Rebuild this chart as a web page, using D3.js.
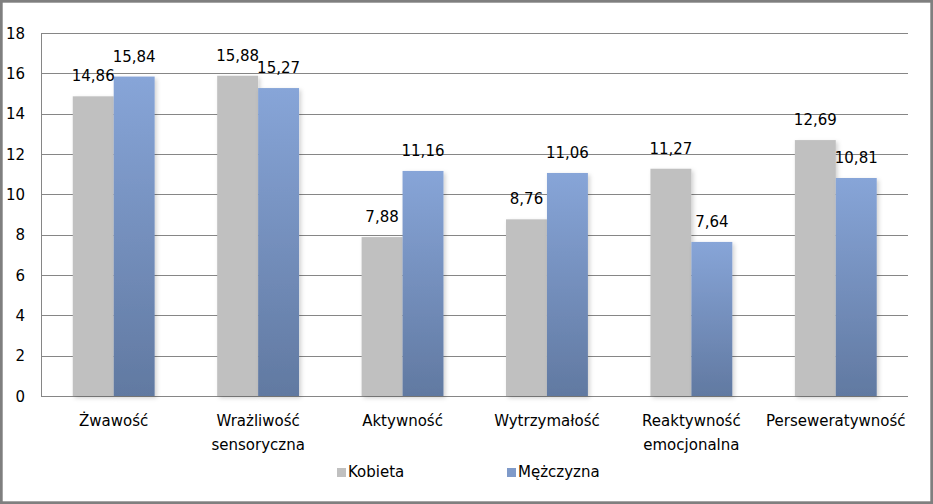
<!DOCTYPE html>
<html>
<head>
<meta charset="utf-8">
<script src="https://cdn.jsdelivr.net/npm/d3@7"></script>
<style>
  html, body { margin: 0; padding: 0; background: #fff; }
  svg { display: block; }
  text { font-family: "DejaVu Sans", sans-serif; fill: #000; }
</style>
</head>
<body>
<svg id="chart" width="933" height="504"></svg>
<script>
const categories = [["Żwawość"], ["Wrażliwość", "sensoryczna"], ["Aktywność"], ["Wytrzymałość"], ["Reaktywność", "emocjonalna"], ["Perseweratywność"]];
const seriesNames = ["Kobieta", "Mężczyzna"];
const kobieta = [14.86, 15.88, 7.88, 8.76, 11.27, 12.69];
const mezczyzna = [15.84, 15.27, 11.16, 11.06, 7.64, 10.81];
const yTicks = [0, 2, 4, 6, 8, 10, 12, 14, 16, 18];

const svg = d3.select("#chart");
const W = 933, H = 504;
const plot = { left: 41.5, right: 908, top: 33, bottom: 396 };
const FS = 15;

const defs = svg.append("defs");
const grad = defs.append("linearGradient").attr("id", "blueGrad")
  .attr("x1", 0).attr("y1", 0).attr("x2", 0).attr("y2", 1);
grad.append("stop").attr("offset", "0%").attr("stop-color", "#87A5D8");
grad.append("stop").attr("offset", "100%").attr("stop-color", "#6179A1");
const f = defs.append("filter").attr("id", "shadow").attr("x", "-20%").attr("y", "-20%").attr("width", "150%").attr("height", "150%");
f.append("feDropShadow").attr("dx", 2).attr("dy", 2).attr("stdDeviation", 2).attr("flood-color", "#000").attr("flood-opacity", 0.18);

// background + border
svg.append("rect").attr("x", 1.35).attr("y", 1.35).attr("width", W - 2.7).attr("height", H - 2.7)
  .attr("fill", "#fff").attr("stroke", "#7F7F7F").attr("stroke-width", 2.7);

const keys = categories.map(c => c.join(" "));
const x0 = d3.scaleBand().domain(keys).range([plot.left, plot.right]).paddingInner(0.433).paddingOuter(0.2165);
const x1 = d3.scaleBand().domain(seriesNames).range([0, x0.bandwidth()]);
const y = d3.scaleLinear().domain([0, 18]).range([plot.bottom, plot.top]);

// gridlines
svg.append("g").selectAll("line").data(yTicks).join("line")
  .attr("x1", plot.left).attr("x2", plot.right)
  .attr("y1", d => Math.round(y(d)) + 0.5).attr("y2", d => Math.round(y(d)) + 0.5)
  .attr("stroke", "#868686").attr("stroke-width", 1);
svg.append("line").attr("x1", plot.left).attr("x2", plot.left)
  .attr("y1", y(18)).attr("y2", Math.round(y(0)) + 1)
  .attr("stroke", "#868686").attr("stroke-width", 1);

// y tick labels
svg.append("g").selectAll("text").data(yTicks).join("text")
  .attr("x", 25).attr("y", d => y(d) + 5.5)
  .attr("text-anchor", "end").attr("font-size", FS)
  .text(d => d);

// bars
const data = categories.map((c, i) => ({ key: keys[i], vals: [kobieta[i], mezczyzna[i]] }));
const fills = ["#C0C0C0", "url(#blueGrad)"];
const g = svg.append("g");
data.forEach(d => {
  d.vals.forEach((v, j) => {
    g.append("rect")
      .attr("x", x0(d.key) + x1(seriesNames[j]))
      .attr("y", y(v))
      .attr("width", x1.bandwidth())
      .attr("height", y(0) - y(v))
      .attr("fill", fills[j])
      .attr("filter", "url(#shadow)");
  });
});
// value labels
data.forEach(d => {
  d.vals.forEach((v, j) => {
    svg.append("text")
      .attr("x", x0(d.key) + x1(seriesNames[j]) + x1.bandwidth() / 2)
      .attr("y", y(v) - 15)
      .attr("text-anchor", "middle").attr("font-size", FS)
      .text(v.toFixed(2).replace(".", ","));
  });
});

// x labels
categories.forEach((c, i) => {
  const t = svg.append("text")
    .attr("x", x0(keys[i]) + x0.bandwidth() / 2)
    .attr("y", 426).attr("text-anchor", "middle").attr("font-size", FS);
  c.forEach((line, k) => {
    t.append("tspan").attr("x", x0(keys[i]) + x0.bandwidth() / 2).attr("dy", k === 0 ? 0 : 23.5).text(line);
  });
});

// legend
const legendX = [337, 507];
const legendFill = ["#C0C0C0", "#7F9AC9"];
seriesNames.forEach((s, i) => {
  svg.append("rect").attr("x", legendX[i]).attr("y", 468).attr("width", 9).attr("height", 9).attr("fill", legendFill[i]);
  svg.append("text").attr("x", legendX[i] + 11).attr("y", 477).attr("font-size", FS).text(s);
});
</script>
</body>
</html>
